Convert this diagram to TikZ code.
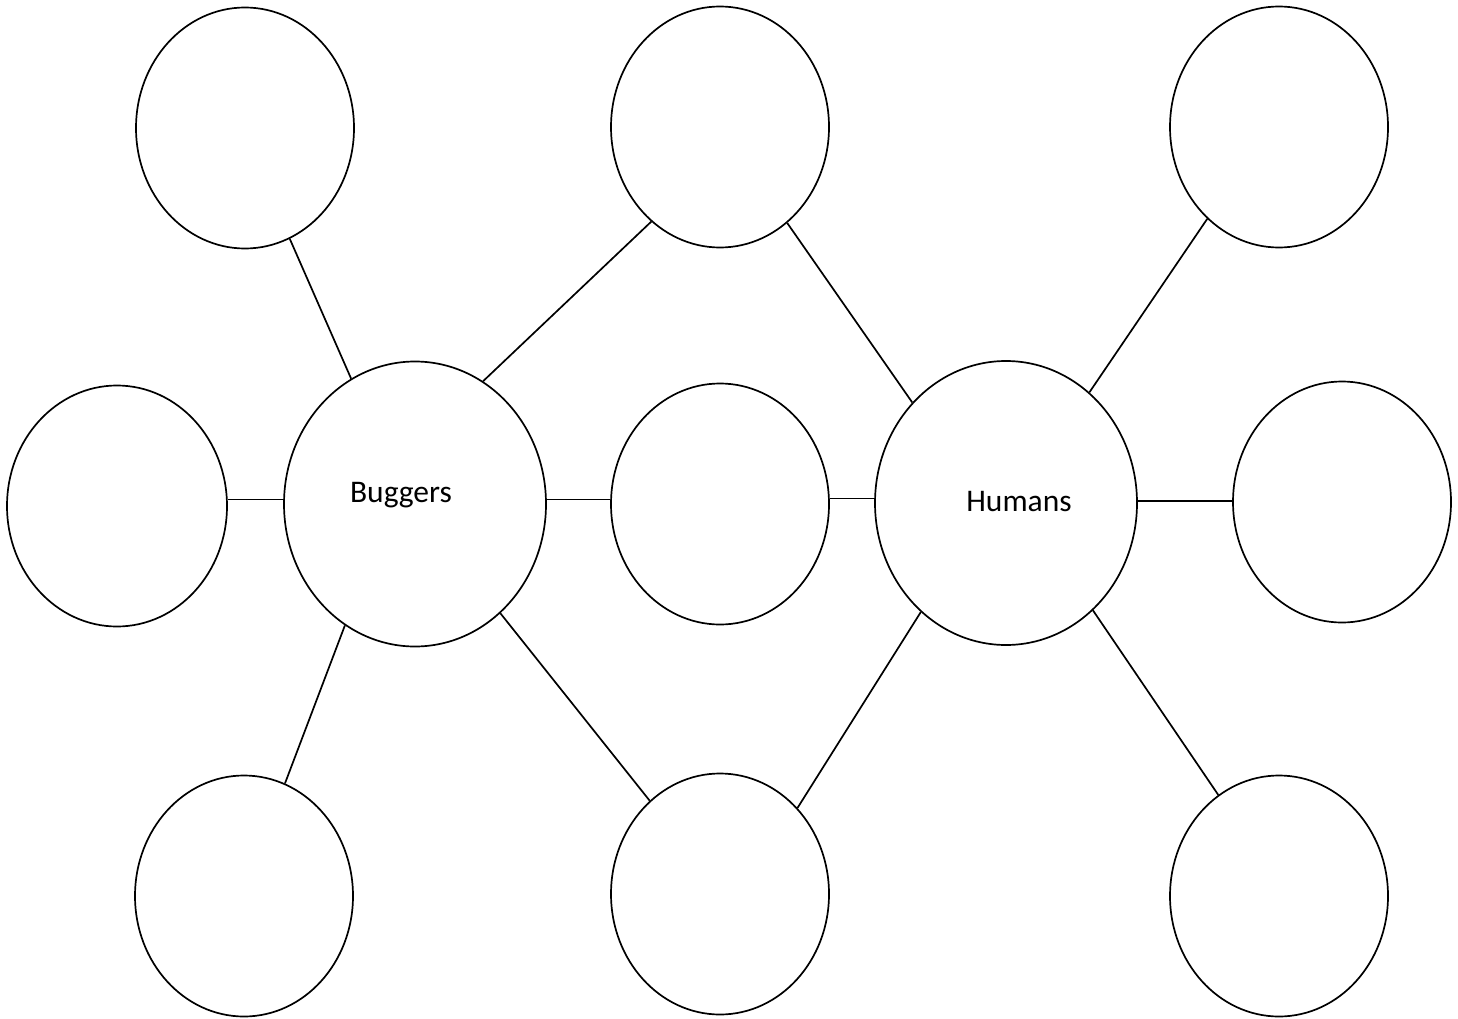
\documentclass[tikz,border=0pt]{standalone}
\usepackage{fontspec}
\setmainfont{Carlito}
\usetikzlibrary{shapes.geometric}
\begin{document}
\begin{tikzpicture}[x=1pt,y=-1pt,
  bubble/.style={draw, ellipse, line width=1.7pt, inner sep=0pt, minimum width=218pt, minimum height=241pt},
  bigbubble/.style={draw, ellipse, line width=1.7pt, inner sep=0pt, minimum width=262pt, minimum height=285pt},
  lbl/.style={font=\fontsize{31.5}{36}\selectfont},
  conn/.style={line width=1.7pt}]
\useasboundingbox (0,0) rectangle (1458,1019);
\node[bubble] (tl) at (245,128) {};
\node[bubble] (tm) at (720,127) {};
\node[bubble] (tr) at (1279,127) {};
\node[bubble, minimum width=220pt] (ml) at (117,506) {};
\node[bigbubble] (bug) at (415,504) {};
\node[bubble] (mc) at (720,504) {};
\node[bigbubble, minimum height=284pt] (hum) at (1006,503) {};
\node[bubble] (mr) at (1342,502) {};
\node[bubble] (bl) at (244,896) {};
\node[bubble] (bm) at (720,894) {};
\node[bubble] (br) at (1279,896) {};
\node[lbl] (bugtxt) at (401,495) {Buggers};
\node[lbl] (humtxt) at (1019,502) {Humans};
\draw[conn] (tl.292) -- (bug.117);
\draw[conn] (bug.61) -- (tm.234);
\draw[conn] (tm.305) -- (hum.133);
\draw[conn] (hum.53) -- (tr.232);
\draw[conn] (bug.178) -- (ml.east |- bug.178);
\draw[conn] (bug.2) -- (mc.west |- bug.2);
\draw[conn] (hum.178) -- (mc.east |- hum.178);
\draw[conn] (hum.1) -- (mr.west |- hum.1);
\draw[conn] (bug.240) -- (bl.70);
\draw[conn] (bug.308) -- (bm.127);
\draw[conn] (hum.232) -- (bm.48);
\draw[conn] (hum.309) -- (br.121);
\end{tikzpicture}
\end{document}
